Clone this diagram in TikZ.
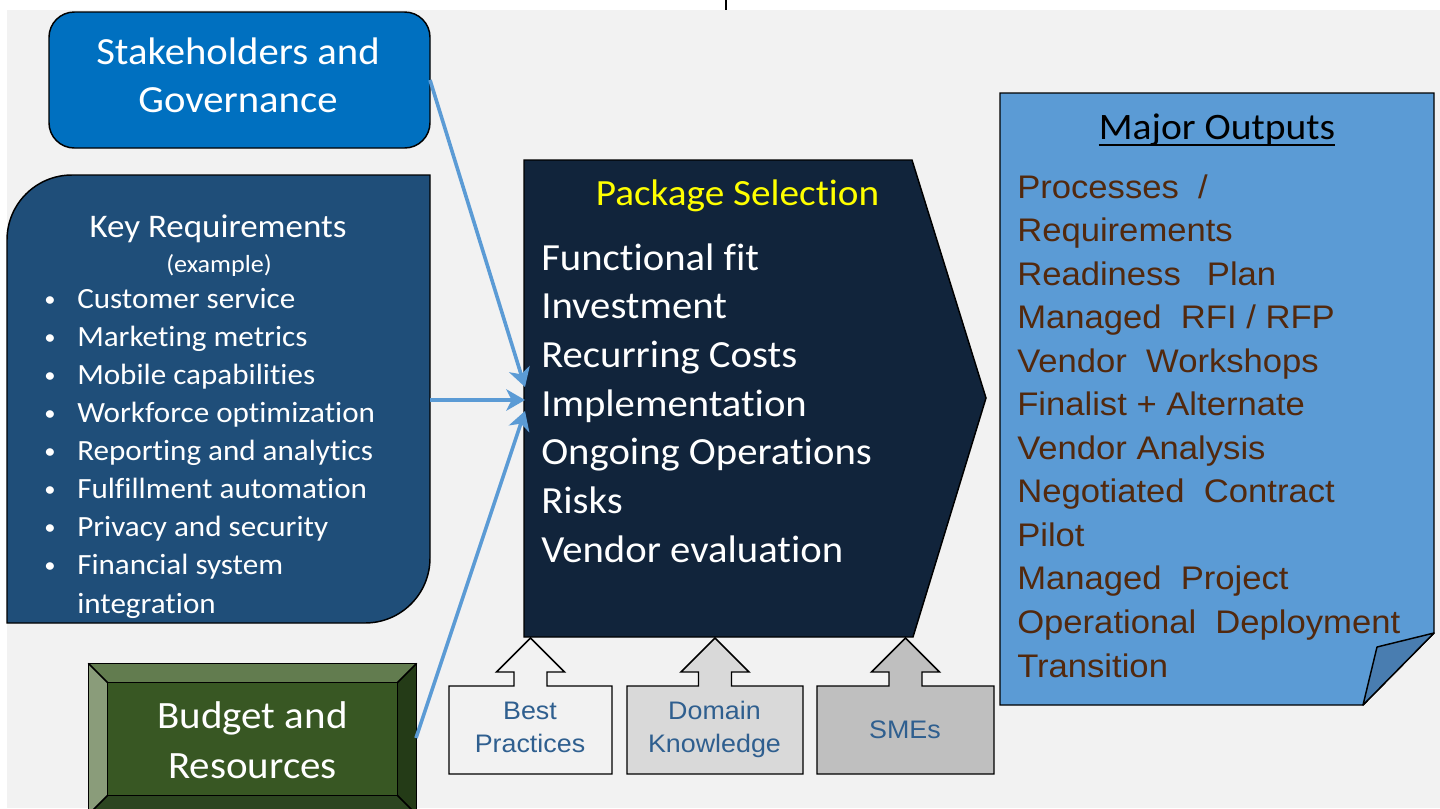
\documentclass[tikz,border=0pt]{standalone}
\usepackage{fontspec}
\setmainfont{Carlito}[FakeStretch=1.06, Ligatures={NoCommon}]
\newfontfamily\arialfont{Liberation Sans}[FakeStretch=1.06]
\usetikzlibrary{arrows.meta}

\definecolor{bggray}{HTML}{F2F2F2}
\definecolor{sgblue}{HTML}{0070C0}
\definecolor{krblue}{HTML}{1F4E79}
\definecolor{psnavy}{HTML}{11243B}
\definecolor{outblue}{HTML}{5B9BD5}
\definecolor{flapblue}{HTML}{497DB0}
\definecolor{feedblue}{HTML}{5B9BD5}
\definecolor{outbrown}{HTML}{52290E}
\definecolor{calltext}{HTML}{2F5F8F}
\definecolor{callA}{HTML}{F2F2F2}
\definecolor{callB}{HTML}{D9D9D9}
\definecolor{callC}{HTML}{BFBFBF}
\definecolor{bgface}{HTML}{385723}
\definecolor{bgtop}{HTML}{627C4F}
\definecolor{bgleft}{HTML}{8A9C7A}
\definecolor{bgright}{HTML}{243B17}
\definecolor{bgbottom}{HTML}{2C4520}
\definecolor{psyellow}{HTML}{FFFF00}

\tikzset{
  outline/.style={draw=black, line width=1.1pt},
  feed/.style={draw=feedblue, line width=2.7pt,
    -{Stealth[length=14pt, width=16pt, inset=4pt]}},
  whitetxt/.style={text=white, inner sep=0pt},
  bulletitem/.style={whitetxt, anchor=base west,
    font=\fontsize{22pt}{28.5pt}\selectfont},
  psitem/.style={whitetxt, anchor=base west,
    font=\fontsize{28.8pt}{36.5pt}\selectfont},
  outitem/.style={text=outbrown, inner sep=0pt, anchor=base west,
    font=\arialfont\fontsize{24.5pt}{32pt}\selectfont},
  calltxt/.style={text=calltext, inner sep=0pt, align=center,
    font=\arialfont\fontsize{19pt}{24.75pt}\selectfont},
}

\begin{document}
\begin{tikzpicture}[x=0.75pt, y=-0.75pt]
\useasboundingbox (0,0) rectangle (1440,808);

% canvas
\fill[white] (0,0) rectangle (1440,808);
\fill[bggray] (7,10) rectangle (1440,808);
\draw[line width=0.9pt] (726,0) -- (726,10);

% Stakeholders and Governance
\node[outline, fill=sgblue, rounded corners=19pt, inner sep=0pt,
      minimum width=285.75pt, minimum height=102pt] (sg) at (239.5,80) {};
\node[whitetxt, align=center, font=\fontsize{28.8pt}{36pt}\selectfont]
      (sg-text) at (238,75) {Stakeholders and\\Governance};

% Key Requirements panel
\path[outline, fill=krblue] (7,623) -- (7,240)
  .. controls (7,204) and (36,175) .. (72,175) -- (430,175) -- (430,558)
  .. controls (430,594) and (401,623) .. (365,623) -- cycle;
\node[whitetxt, anchor=base, font=\fontsize{24.75pt}{30pt}\selectfont]
      (kr-title) at (218,237) {Key Requirements};
\node[whitetxt, anchor=base, font=\fontsize{18.5pt}{22pt}\selectfont]
      (kr-example) at (219,272) {(example)};
\foreach \t [count=\i] in {Customer service, Marketing metrics,
    Mobile capabilities, Workforce optimization, Reporting and analytics,
    Fulfillment automation, Privacy and security, Financial system}{
  \node[whitetxt, anchor=base, font=\fontsize{16pt}{20pt}\selectfont]
        (kr-dot-\i) at (50,{306+38.1*(\i-1)}) {•};
  \node[bulletitem] (kr-item-\i) at (77,{308+38.1*(\i-1)}) {\t};
}
\node[bulletitem] (kr-item-9) at (77,613) {integration};

% Budget and Resources (bevelled block)
\node[outline, fill=bgface, inner sep=0pt,
      minimum width=245.25pt, minimum height=112.5pt] (br-frame) at (252.5,739) {};
\node[inner sep=0pt, minimum width=216.75pt, minimum height=84pt] (br) at (252.5,739) {};
\fill[bgtop] (br-frame.north west) -- (br-frame.north east) -- (br.north east) -- (br.north west) -- cycle;
\fill[bgleft] (br-frame.north west) -- (br.north west) -- (br.south west) -- (br-frame.south west) -- cycle;
\fill[bgright] (br-frame.north east) -- (br-frame.south east) -- (br.south east) -- (br.north east) -- cycle;
\fill[bgbottom] (br-frame.south west) -- (br.south west) -- (br.south east) -- (br-frame.south east) -- cycle;
\draw[outline] (br-frame.north west) rectangle (br-frame.south east);
\draw[outline, fill=bgface] (br.north west) rectangle (br.south east);
\draw[outline] (br-frame.north west) -- (br.north west)
               (br-frame.north east) -- (br.north east)
               (br-frame.south west) -- (br.south west)
               (br-frame.south east) -- (br.south east);
\node[whitetxt, align=center, font=\fontsize{29pt}{37.5pt}\selectfont]
      (br-text) at (252.5,740) {Budget and\\Resources};

% Package Selection pentagon
\path[outline, fill=psnavy] (524,160) -- (912,160) -- (986,398) -- (913,637) -- (524,637) -- cycle;
\node[text=psyellow, inner sep=0pt, anchor=base, font=\fontsize{27.75pt}{32pt}\selectfont]
      (ps-title) at (737.5,205) {Package Selection};
\foreach \t [count=\i] in {Functional fit, Investment, Recurring Costs,
    Implementation, Ongoing Operations, Risks, Vendor evaluation}{
  \node[psitem] (ps-item-\i) at (541,{270+48.7*(\i-1)}) {\t};
}
\coordinate (ps-in-top) at (525,387);
\coordinate (ps-in-mid) at (525,400);
\coordinate (ps-in-low) at (525,411);

% Major Outputs sheet with curled corner
\path[outline, fill=outblue] (1000,93) -- (1434,93) -- (1434,633) -- (1363,705) -- (1000,705) -- cycle;
\path[outline, fill=flapblue, line join=round] (1434,633) -- (1377,647) -- (1363,705) -- cycle;
\node[text=black, inner sep=0pt, anchor=base, font=\fontsize{28pt}{32pt}\selectfont]
      (mo-title) at (1217,139) {Major Outputs};
\draw[line width=1.4pt] ([yshift=-4.8pt]mo-title.base west) -- ([yshift=-4.8pt]mo-title.base east);
\foreach \t [count=\i] in {Processes~ /, Requirements, Readiness\hspace{0.8em}Plan,
    Managed~ RFI / RFP, Vendor~ Workshops, Finalist + Alternate,
    Vendor Analysis, Negotiated~ Contract, Pilot, Managed~ Project,
    Operational~ Deployment, Transition}{
  \node[outitem] (mo-item-\i) at (1017,{198+43.55*(\i-1)}) {\t};
}

% Input callouts under the pentagon
\foreach \cx/\hw/\col/\nm in {530.5/81.5/callA/bp, 715/88/callB/dk, 905.5/88.5/callC/sme}{
  \draw[outline, fill=\col, line join=miter]
    ({\cx-\hw},774) -- ({\cx-\hw},686) -- ({\cx-16.5},686) -- ({\cx-16.5},672)
    -- ({\cx-34},672) -- (\cx,638) -- ({\cx+34},672) -- ({\cx+16.5},672)
    -- ({\cx+16.5},686) -- ({\cx+\hw},686) -- ({\cx+\hw},774) -- cycle;
  \coordinate (\nm) at (\cx,730);
}
\node[calltxt] (bp-text) at (530,727) {Best\\Practices};
\node[calltxt] (dk-text) at (714.5,729) {Domain\\Knowledge};
\node[calltxt] (sme-text) at (905,730) {SMEs};

% feeds into the selection step
\coordinate (sg-out) at (430,80);
\coordinate (kr-out) at (430,400);
\coordinate (br-out) at (416,738);
\draw[feed] (sg-out) -- (ps-in-top);
\draw[feed] (kr-out) -- (ps-in-mid);
\draw[feed] (br-out) -- (ps-in-low);
\end{tikzpicture}
\end{document}
